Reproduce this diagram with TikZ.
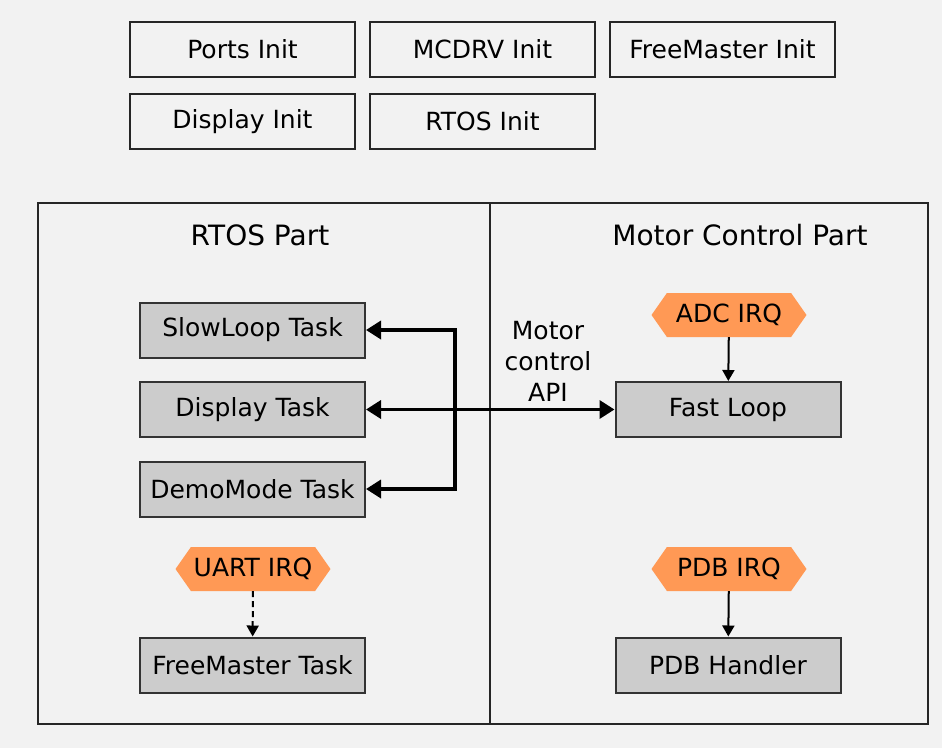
\documentclass[tikz,border=0pt]{standalone}
\usepackage{fontspec}
\setmainfont{DejaVu Sans}
\usetikzlibrary{arrows.meta,shapes.symbols}
\definecolor{bggray}{HTML}{F2F2F2}
\definecolor{taskgray}{HTML}{CCCCCC}
\definecolor{irqorange}{HTML}{FF9955}
\begin{document}
\begin{tikzpicture}[x=1pt,y=-1pt]
	\tikzstyle{init}=[rectangle,draw=black!85,line width=2.5pt,fill=bggray,minimum width=225pt,minimum height=55pt,inner sep=0pt,font=\fontsize{25}{29}\selectfont]
	\tikzstyle{task}=[rectangle,draw=black!80,line width=2pt,fill=taskgray,minimum width=225pt,minimum height=55pt,inner sep=0pt,font=\fontsize{25}{29}\selectfont]
	\tikzstyle{irq}=[signal,signal to=west and east,signal pointer angle=110,fill=irqorange,minimum width=155pt,minimum height=44pt,inner sep=2pt,font=\fontsize{25}{29}\selectfont]
	\tikzstyle{title}=[font=\fontsize{28}{32}\selectfont]
	\tikzstyle{edge}=[draw=black, line width=2pt,-{Triangle[length=11pt,width=12pt]}]
	\tikzstyle{bus}=[draw=black, line width=3.5pt,line join=miter,{Triangle[length=15pt,width=18pt]}-{Triangle[length=15pt,width=18pt]}]

	\useasboundingbox[fill=bggray] (0,0) rectangle (942,748);

	% init boxes
	\node [init] (ports) at (242.5,49.5) {Ports Init};
	\node [init] (mcdrv) at (482.5,49.5) {MCDRV Init};
	\node [init] (fminit) at (722.5,49.5) {FreeMaster Init};
	\node [init] (dispinit) at (242.5,121.5) {Display Init};
	\node [init] (rtosinit) at (482.5,121.5) {RTOS Init};

	% parts frame
	\draw[line width=2.5pt,draw=black!85] (38,203) rectangle (928,724);
	\draw[line width=2.5pt,draw=black!85] (490,203) -- (490,724);
	\node [title] (rtospart) at (260,235) {RTOS Part};
	\node [title] (mcpart) at (740,235) {Motor Control Part};

	% tasks
	\node [task] (slow) at (252.5,330) {SlowLoop Task};
	\node [task] (disp) at (252.5,409.5) {Display Task};
	\node [task] (demo) at (252.5,489) {DemoMode Task};
	\node [irq] (uart) at (253,569) {UART IRQ};
	\node [task] (fmtask) at (252.5,665) {FreeMaster Task};

	\node [irq] (adc) at (729,315) {ADC IRQ};
	\node [task] (fast) at (728,409.5) {Fast Loop};
	\node [irq] (pdb) at (729,569) {PDB IRQ};
	\node [task] (pdbh) at (728,665) {PDB Handler};

	\node [align=center,font=\fontsize{25}{31}\selectfont] (api) at (548,361) {Motor\\control\\API};

	% connections
	\coordinate (jb) at (455,489);
	\path[bus] (slow.east) -| (jb) -- (demo.east);
	\path[bus] (disp.east) -- (fast.west);

	\path[edge] (adc) -- (fast);
	\path[edge] (pdb) -- (pdbh);
	\path[edge,dashed,dash pattern=on 6pt off 4pt] (uart) -- (fmtask);
\end{tikzpicture}
\end{document}
